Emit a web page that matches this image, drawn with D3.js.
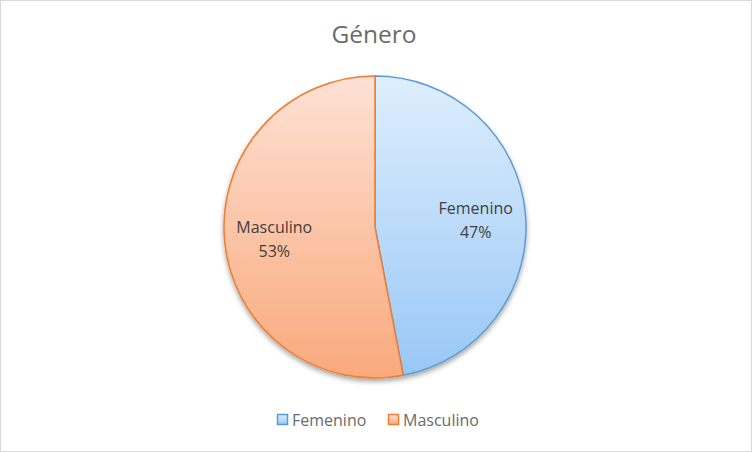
<!DOCTYPE html>
<html>
<head>
<meta charset="utf-8">
<script src="https://cdn.jsdelivr.net/npm/d3@7"></script>
<style>
  body { margin: 0; background: #fff; }
  svg { display: block; font-family: "Open Sans", Lato, sans-serif; }
</style>
</head>
<body>
<svg width="752" height="452"></svg>
<script>
// Chart data

const title = "Género";
const categories = ["Femenino", "Masculino"];
const values = [47, 53];
const strokes = ["#5b9bd5", "#ed7d31"];
const fillTop = ["#deeefd", "#fde1d4"];
const fillBottom = ["#98c7f6", "#f9a97c"];

const width = 752, height = 452;
const cx = 375, cy = 227, radius = 151;

const svg = d3.select("svg");

svg.append("rect")
    .attr("x", 0.5).attr("y", 0.5)
    .attr("width", width - 1).attr("height", height - 1)
    .attr("fill", "#fff")
    .attr("stroke", "#d9d9d9");

const defs = svg.append("defs");

categories.forEach((c, i) => {
    const g = defs.append("linearGradient")
        .attr("id", "grad" + i)
        .attr("gradientUnits", "userSpaceOnUse")
        .attr("x1", 0).attr("y1", -radius)
        .attr("x2", 0).attr("y2", radius);
    g.append("stop").attr("offset", "0%").attr("stop-color", fillTop[i]);
    g.append("stop").attr("offset", "100%").attr("stop-color", fillBottom[i]);

    const lg = defs.append("linearGradient")
        .attr("id", "lgrad" + i)
        .attr("x1", 0).attr("y1", 0).attr("x2", 0).attr("y2", 1);
    lg.append("stop").attr("offset", "0%").attr("stop-color", fillTop[i]);
    lg.append("stop").attr("offset", "100%").attr("stop-color", fillBottom[i]);
});

const shadow = defs.append("filter")
    .attr("id", "shadow")
    .attr("x", "-20%").attr("y", "-20%")
    .attr("width", "140%").attr("height", "140%");
shadow.append("feGaussianBlur").attr("in", "SourceAlpha").attr("stdDeviation", 2.5);
shadow.append("feOffset").attr("dx", 0).attr("dy", 2.5).attr("result", "blur");
shadow.append("feComponentTransfer").append("feFuncA").attr("type", "linear").attr("slope", 0.35);
const merge = shadow.append("feMerge");
merge.append("feMergeNode");
merge.append("feMergeNode").attr("in", "SourceGraphic");

// Title
svg.append("text")
    .attr("x", cx - 1).attr("y", 43)
    .attr("text-anchor", "middle")
    .attr("font-size", 24.5)
    .attr("fill", "#6b6b6b")
    .text(title);

const pie = d3.pie().sort(null).value(d => d);
const arcs = pie(values);

const arc = d3.arc().innerRadius(0).outerRadius(radius);
const labelArc = d3.arc().innerRadius(radius * 0.67).outerRadius(radius * 0.67);

const g = svg.append("g").attr("transform", `translate(${cx},${cy})`);

g.append("g")
    .attr("filter", "url(#shadow)")
    .selectAll("path")
    .data(arcs)
    .enter().append("path")
    .attr("d", arc)
    .attr("fill", (d, i) => `url(#grad${i})`)
    .attr("stroke", (d, i) => strokes[i])
    .attr("stroke-width", 1.5)
    .attr("stroke-linejoin", "round");

const total = d3.sum(values);
const labels = g.selectAll(".lbl")
    .data(arcs)
    .enter().append("text")
    .attr("class", "lbl")
    .attr("transform", d => `translate(${labelArc.centroid(d)})`)
    .attr("text-anchor", "middle")
    .attr("font-size", 16)
    .attr("fill", "#404040");
labels.append("tspan")
    .attr("x", 0).attr("dy", "-0.2em")
    .text((d, i) => categories[i]);
labels.append("tspan")
    .attr("x", 0).attr("dy", "1.5em")
    .text(d => Math.round(d.value / total * 100) + "%");

// Legend
const legend = svg.append("g").attr("transform", "translate(277,420)");
const items = legend.selectAll("g")
    .data(categories)
    .enter().append("g")
    .attr("transform", (d, i) => `translate(${i === 0 ? 0 : 111},0)`);
items.append("rect")
    .attr("x", 0.5).attr("y", -5.5)
    .attr("width", 10).attr("height", 10)
    .attr("fill", (d, i) => `url(#lgrad${i})`)
    .attr("stroke", (d, i) => strokes[i])
    .attr("stroke-width", 1.5);
items.append("text")
    .attr("x", 15).attr("y", 0)
    .attr("dy", "0.35em")
    .attr("font-size", 16)
    .attr("fill", "#6b6b6b")
    .text(d => d);
</script>
</body>
</html>
